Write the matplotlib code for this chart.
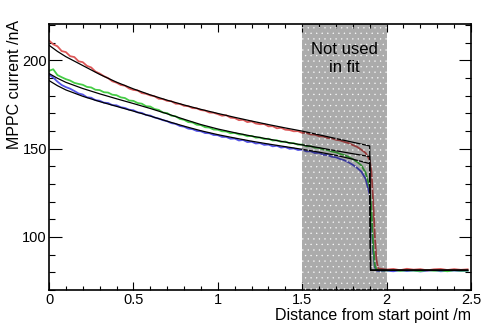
import numpy as np
import matplotlib
matplotlib.use("Agg")
import matplotlib.pyplot as plt
from matplotlib.ticker import MultipleLocator

plt.rcParams['font.family'] = ['Liberation Sans', 'DejaVu Sans']
plt.rcParams['hatch.linewidth'] = 0.2

# measured positions along the fibre /m
dist = [0.000, 0.025, 0.050, 0.075, 0.100, 0.125, 0.150, 0.175, 0.200, 0.225,
        0.250, 0.275, 0.300, 0.325, 0.350, 0.375, 0.400, 0.425, 0.450, 0.475,
        0.500, 0.525, 0.550, 0.575, 0.600, 0.625, 0.650, 0.675, 0.700, 0.725,
        0.750, 0.775, 0.800, 0.825, 0.850, 0.875, 0.900, 0.925, 0.950, 0.975,
        1.000, 1.025, 1.050, 1.075, 1.100, 1.125, 1.150, 1.175, 1.200, 1.225,
        1.250, 1.275, 1.300, 1.325, 1.350, 1.375, 1.400, 1.425, 1.450, 1.475,
        1.500, 1.525, 1.550, 1.575, 1.600, 1.625, 1.650, 1.675, 1.700, 1.725,
        1.750, 1.775, 1.800, 1.825, 1.850, 1.875, 1.900, 1.910, 1.920, 1.930,
        1.940, 1.950, 2.000, 2.040, 2.080, 2.120, 2.160, 2.200, 2.240, 2.280,
        2.320, 2.360, 2.400, 2.440, 2.480]

# MPPC current /nA for the three runs
red_run = [211.2, 209.0, 207.9, 205.2, 204.6, 202.3, 201.8, 199.4, 198.9, 196.8,
           195.9, 193.6, 192.5, 191.0, 189.9, 188.1, 187.3, 186.0, 185.6, 184.0,
           183.2, 182.9, 181.4, 181.0, 180.1, 179.6, 178.2, 178.0, 177.0, 176.8,
           175.4, 175.3, 174.2, 174.0, 172.9, 172.8, 171.8, 171.5, 170.4, 170.3,
           169.5, 168.6, 168.9, 167.5, 167.3, 166.1, 166.3, 165.0, 165.4, 164.2,
           163.8, 163.9, 162.6, 162.7, 161.5, 161.8, 160.7, 160.5, 159.8, 159.9,
           158.9, 158.8, 158.0, 157.9, 157.0, 156.9, 156.0, 155.8, 155.0, 154.6,
           153.8, 153.1, 152.0, 151.0, 149.4, 147.6, 143.5, 137.0, 121.0, 101.0,
           87.0, 82.2, 81.6, 81.9, 81.2, 82.0, 81.5, 81.8, 81.1, 81.7,
           81.9, 81.3, 81.8, 81.4, 81.7]

green_run = [194.0, 194.9, 191.6, 190.4, 189.3, 188.5, 187.2, 186.6, 186.1, 184.9,
             184.6, 183.3, 183.1, 181.9, 181.7, 180.5, 180.2, 179.0, 178.6, 177.2,
             177.0, 175.8, 175.4, 174.0, 173.8, 172.4, 171.9, 170.4, 170.1, 168.6,
             168.3, 166.8, 166.3, 165.0, 164.8, 163.5, 163.3, 162.1, 161.9, 160.8,
             160.7, 159.8, 159.7, 158.7, 158.9, 158.0, 157.9, 157.0, 157.2, 156.2,
             156.3, 155.4, 155.6, 154.6, 154.7, 153.8, 154.0, 153.0, 153.1, 152.2,
             152.3, 151.3, 151.4, 150.5, 150.4, 149.5, 149.2, 148.4, 147.9, 147.0,
             146.3, 145.3, 144.0, 142.5, 140.5, 136.5, 128.0, 115.0, 96.0, 84.0,
             81.6, 81.2, 81.0, 81.4, 80.8, 81.2, 81.0, 80.7, 81.3, 80.9,
             81.1, 80.6, 81.2, 80.9, 81.0]

blue_run = [191.8, 190.2, 187.9, 186.0, 184.8, 183.9, 182.6, 181.2, 180.6, 179.0,
            178.8, 177.4, 177.1, 176.0, 175.8, 174.6, 174.5, 173.4, 173.0, 172.0,
            171.7, 170.5, 170.2, 169.0, 168.7, 167.6, 167.0, 166.1, 165.5, 164.4,
            164.0, 162.8, 162.4, 161.3, 161.0, 160.0, 159.8, 158.8, 158.7, 157.7,
            157.6, 156.6, 156.6, 155.6, 155.7, 154.6, 154.9, 153.7, 153.9, 152.9,
            153.1, 152.1, 152.3, 151.3, 151.6, 150.6, 150.9, 149.9, 150.1, 149.2,
            149.4, 148.4, 148.5, 147.5, 147.6, 146.5, 146.4, 145.4, 145.1, 144.1,
            143.4, 142.2, 140.8, 139.1, 137.0, 133.0, 124.0, 110.0, 92.0, 83.0,
            81.0, 80.8, 80.9, 80.6, 81.1, 80.7, 81.0, 80.5, 80.9, 81.2,
            80.6, 80.8, 81.0, 80.7, 80.9]

# fitted curves
fit_x = [0.0, 0.05, 0.1, 0.2, 0.3, 0.4, 0.5, 0.6, 0.7, 0.8, 0.9, 1.0, 1.1,
         1.2, 1.3, 1.4, 1.5, 1.6, 1.7, 1.8, 1.9, 1.905, 2.48]
red_fit = [208.5, 205.0, 202.0, 197.0, 192.0, 187.6, 183.8, 180.4, 177.4, 174.7,
           172.2, 169.9, 167.7, 165.6, 163.6, 161.7, 159.9, 157.8, 155.7, 153.6,
           151.5, 81.2, 81.2]
green_fit = [192.5, 189.8, 187.5, 184.0, 181.0, 178.2, 175.5, 172.7, 169.7, 166.6,
             163.6, 161.1, 159.0, 157.1, 155.4, 153.7, 152.1, 150.5, 148.8, 147.1,
             145.5, 81.2, 81.2]
blue_fit = [188.5, 185.6, 183.2, 179.6, 176.6, 173.9, 171.2, 168.4, 165.5, 162.7,
            160.1, 157.9, 156.0, 154.2, 152.6, 151.1, 149.6, 148.0, 146.2, 144.0,
            141.5, 81.2, 81.2]

excluded = (1.5, 2.0)

fig = plt.figure(figsize=(4.98, 3.32), dpi=100)
ax = fig.add_axes([0.0984, 0.1265, 0.8474, 0.8012])

ax.plot(dist, blue_run, color='#5454e6', lw=1.3, zorder=2)
ax.plot(dist, green_run, color='#46cc46', lw=1.3, zorder=2)
ax.plot(dist, red_run, color='#dc5858', lw=1.3, zorder=2)
for f in (red_fit, green_fit, blue_fit):
    ax.plot(fit_x, f, color='black', lw=0.9, zorder=2.5)

# region excluded from the fit: dark translucent band with white dots
ax.axvspan(*excluded, facecolor=(0, 0, 0, 0.33), edgecolor='white',
           hatch='...', linewidth=0, zorder=3)
ax.text(np.mean(excluded), 201, 'Not used\nin fit', ha='center', va='center',
        fontsize=12, linespacing=1.25, zorder=4)

ax.set_xlim(0, 2.5)
ax.set_ylim(70, 220.5)
ax.xaxis.set_minor_locator(MultipleLocator(0.1))
ax.yaxis.set_major_locator(MultipleLocator(50))
ax.yaxis.set_minor_locator(MultipleLocator(10))
ax.set_xticks([0, 0.5, 1, 1.5, 2, 2.5])
ax.set_xticklabels(['0', '0.5', '1', '1.5', '2', '2.5'])

ax.tick_params(which='both', direction='in', top=True, right=True,
               labelsize=10.5, width=0.8)
ax.tick_params(axis='x', which='major', length=5.5, pad=2.5)
ax.tick_params(axis='x', which='minor', length=3)
ax.tick_params(axis='y', which='major', length=9, pad=1.5)
ax.tick_params(axis='y', which='minor', length=4)
for s in ax.spines.values():
    s.set_linewidth(1.2)

ax.set_xlabel('Distance from start point /m', fontsize=11.5, loc='right')
ax.xaxis.set_label_coords(1.0, -0.068)
ax.set_ylabel('MPPC current /nA', fontsize=11.5, loc='top')
ax.yaxis.set_label_coords(-0.063, 1.015)

fig.savefig('out.png', dpi=100)
